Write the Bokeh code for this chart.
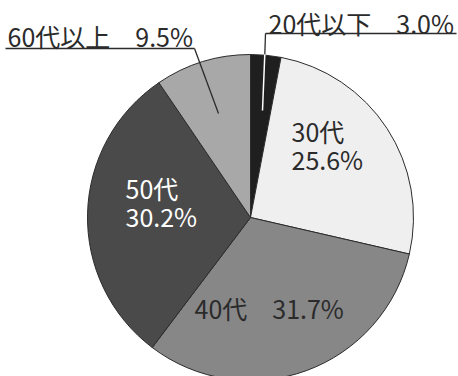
import math
from bokeh.plotting import figure
from bokeh.models import Range1d, ColumnDataSource
from bokeh.embed import file_html
from bokeh.resources import INLINE
from bokeh.core.properties import value

# ---- data ----
categories = ["20代以下", "30代", "40代", "50代", "60代以上"]
shares = [3.0, 25.6, 31.7, 30.2, 9.5]
colors = ["#1f1f1f", "#efefef", "#878787", "#4a4a4a", "#a8a8a8"]

# ---- layout (pixel space, y measured from top) ----
W, H = 458, 376
CX, CY_PX, R = 250, 217, 163
FONT = "Noto Sans CJK JP"
FS = "25px"
BASE_SHIFT = 10  # correction of rendered baseline

def ypx(y):
    return H - y

p = figure(width=W, height=H, x_range=Range1d(0, W), y_range=Range1d(0, H),
           output_backend="svg", toolbar_location=None, min_border=0)
p.axis.visible = False
p.grid.visible = False
p.outline_line_color = None
p.background_fill_color = "white"
p.border_fill_color = "white"

# wedges
total = sum(shares)
starts, ends = [], []
cum = 0.0
for s in shares:
    starts.append(math.pi / 2 - 2 * math.pi * cum / total)
    cum += s
    ends.append(math.pi / 2 - 2 * math.pi * cum / total)

src = ColumnDataSource(dict(x=[CX] * len(shares), y=[ypx(CY_PX)] * len(shares),
                            start=starts, end=ends, color=colors, cat=categories))
p.wedge(x="x", y="y", radius=R, start_angle="start", end_angle="end",
        direction="clock", fill_color="color", line_color="#2b2b2b",
        line_width=1, source=src)

# leader lines
# 20代以下
p.line([265, 456], [ypx(33), ypx(33)], line_color="#2b2b2b", line_width=1.3)
p.line([265, 264.3], [ypx(33), ypx(54)], line_color="#2b2b2b", line_width=1.3)
p.line([264.3, 262], [ypx(54), ypx(110)], line_color="white", line_width=1.5)
# 60代以上
p.line([5, 194], [ypx(48), ypx(48)], line_color="#2b2b2b", line_width=1.3)
p.line([194, 218], [ypx(48), ypx(113)], line_color="#2b2b2b", line_width=1.3)

def pct(v):
    return f"{v:.1f}%"

# label texts from data
texts = [
    f"{categories[0]}\u3000{pct(shares[0])}",
    f"{categories[4]}\u3000{pct(shares[4])}",
    categories[1], pct(shares[1]),
    f"{categories[2]}\u3000{pct(shares[2])}",
    categories[3], pct(shares[3]),
]
tx = [268, 7, 291, 291, 194, 125, 125]
ty = [32, 45, 140, 168, 317, 197, 225]
tc = ["#2b2b2b", "#2b2b2b", "#2b2b2b", "#2b2b2b", "#2b2b2b", "white", "white"]

lsrc = ColumnDataSource(dict(x=tx, y=[ypx(v - BASE_SHIFT) for v in ty], text=texts, color=tc))
p.text(x="x", y="y", text="text", text_color="color", source=lsrc,
       text_font=value(FONT), text_font_size=FS,
       text_baseline="alphabetic", text_align="left")

open("out.html", "w").write(file_html(p, INLINE))
